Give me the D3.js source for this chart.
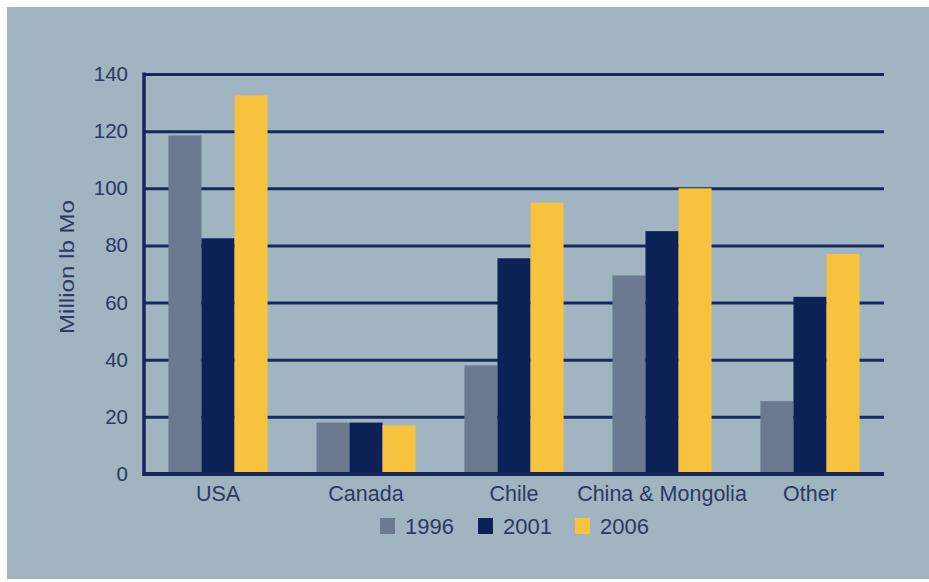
<!DOCTYPE html>
<html><head><meta charset="utf-8">
<script src="https://cdn.jsdelivr.net/npm/d3@7"></script>
<style>html,body{margin:0;padding:0;background:#fff;}svg{display:block;}</style>
</head><body>
<svg id="chart" width="929" height="582"></svg>
<script>
const categories = ["USA", "Canada", "Chile", "China & Mongolia", "Other"];
const years = ["1996", "2001", "2006"];
const values1996 = [118.5, 18, 38, 69.5, 25.5];
const values2001 = [82.5, 18, 75.5, 85, 62];
const values2006 = [132.5, 17, 95, 100, 77];
const yTicks = [0, 20, 40, 60, 80, 100, 120, 140];
const yTitle = "Million lb Mo";

const seriesValues = [values1996, values2001, values2006];
const colors = ["#6b7a90", "#0c2257", "#f7c23d"];
const textColor = "#2b3a60";
const lineColor = "#14295a";
const font = "Liberation Sans, Arial, sans-serif";

const svg = d3.select("#chart");
svg.append("rect").attr("x", 7).attr("y", 7).attr("width", 922).attr("height", 572).attr("fill", "#a0b4c2");

const plotLeft = 144, plotRight = 884, plotTop = 74, plotBottom = 474;
const y = d3.scaleLinear().domain([0, 140]).range([plotBottom, plotTop]);
const x0 = d3.scaleBand().domain(categories).range([plotLeft, plotRight]).paddingInner(0.33).paddingOuter(0.165);
const x1 = d3.scaleBand().domain(years).range([0, x0.bandwidth()]);

// gridlines
const yAxis = d3.axisLeft(y).tickValues(yTicks).tickSize(-(plotRight - plotLeft)).tickFormat(d => d).tickPadding(16);
const gy = svg.append("g").attr("transform", `translate(${plotLeft},0)`).call(yAxis);
gy.select(".domain").remove();
gy.selectAll(".tick line").attr("stroke", lineColor).attr("stroke-width", 3);
gy.selectAll(".tick text").attr("fill", textColor).attr("font-family", font).attr("font-size", 20.5);

// bars
const data = [];
categories.forEach((c, i) => years.forEach((yr, j) => data.push({c, yr, v: seriesValues[j][i], j})));
svg.append("g").selectAll("rect").data(data).join("rect")
  .attr("x", d => x0(d.c) + x1(d.yr))
  .attr("y", d => y(d.v))
  .attr("width", x1.bandwidth())
  .attr("height", d => y(0) - y(d.v))
  .attr("fill", d => colors[d.j]);

// axes lines
svg.append("line").attr("x1", plotLeft).attr("x2", plotLeft).attr("y1", plotTop - 1.5).attr("y2", plotBottom + 2)
  .attr("stroke", lineColor).attr("stroke-width", 3.5);
svg.append("line").attr("x1", plotLeft - 1.5).attr("x2", plotRight).attr("y1", plotBottom).attr("y2", plotBottom)
  .attr("stroke", lineColor).attr("stroke-width", 4);

// x labels
const xAxis = d3.axisBottom(x0).tickSize(0).tickPadding(12);
const gx = svg.append("g").attr("transform", `translate(0,${plotBottom})`).call(xAxis);
gx.select(".domain").remove();
gx.selectAll(".tick text").attr("fill", textColor).attr("font-family", font).attr("font-size", 21.5);

// y title
svg.append("text").attr("transform", `translate(74,267) rotate(-90)`).attr("text-anchor", "middle")
  .attr("fill", textColor).attr("font-family", font).attr("font-size", 21)
  .attr("textLength", 134).attr("lengthAdjust", "spacingAndGlyphs")
  .text(yTitle);

// legend
const legendX = [380, 478, 575];
const lg = svg.append("g");
years.forEach((yr, j) => {
  lg.append("rect").attr("x", legendX[j]).attr("y", 518).attr("width", 15).attr("height", 16).attr("fill", colors[j]);
  lg.append("text").attr("x", legendX[j] + 25).attr("y", 534).attr("fill", textColor)
    .attr("font-family", font).attr("font-size", 22).text(yr);
});
</script>
</body></html>
